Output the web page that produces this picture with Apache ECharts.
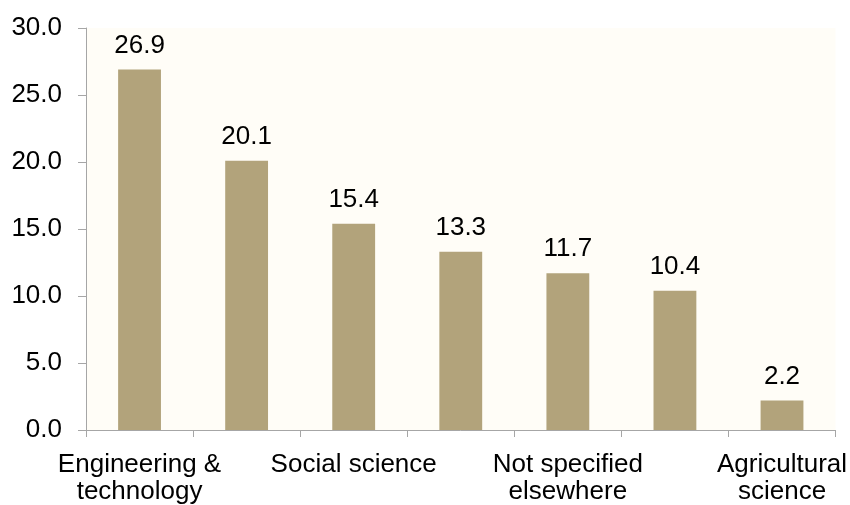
<!DOCTYPE html>
<html>
<head>
<meta charset="utf-8">
<script src="https://cdn.jsdelivr.net/npm/echarts@6/dist/echarts.min.js"></script>
<style>
  html, body { margin: 0; padding: 0; background: #ffffff; }
  #chart { width: 850px; height: 505px; }
</style>
</head>
<body>
<div id="chart"></div>
<script>
// Fields of study, shares in percent
const categories = [
  'Engineering &\ntechnology',
  'Natural science',
  'Social science',
  'Medical science',
  'Not specified\nelsewhere',
  'Humanities',
  'Agricultural\nscience'
];
const shares = [26.9, 20.1, 15.4, 13.3, 11.7, 10.4, 2.2];
const yTicks = { min: 0, max: 30, step: 5 };

const chart = echarts.init(document.getElementById('chart'), null, { renderer: 'canvas' });
const font = 'Liberation Sans, Arial, sans-serif';

chart.setOption({
  animation: false,
  backgroundColor: '#ffffff',
  grid: {
    left: 86, right: 14, top: 28, bottom: 75,
    show: true, backgroundColor: '#fffdf7', borderWidth: 0
  },
  xAxis: {
    type: 'category',
    data: categories,
    axisLine: { lineStyle: { color: '#a6a6a6', width: 1 } },
    axisTick: { show: true, interval: 0, length: 7, lineStyle: { color: '#a6a6a6' } },
    axisLabel: {
      interval: 1,
      color: '#000000',
      fontFamily: font,
      fontSize: 26,
      lineHeight: 27,
      margin: 21
    }
  },
  yAxis: {
    type: 'value',
    min: yTicks.min,
    max: yTicks.max,
    interval: yTicks.step,
    splitLine: { show: false },
    axisLine: { show: true, lineStyle: { color: '#a6a6a6', width: 1 } },
    axisTick: { show: true, length: 8, lineStyle: { color: '#a6a6a6' } },
    axisLabel: {
      color: '#000000',
      fontFamily: font,
      fontSize: 26,
      margin: 24,
      formatter: v => v.toFixed(1)
    }
  },
  series: [{
    type: 'bar',
    data: shares,
    barWidth: '40%',
    itemStyle: { color: '#b2a37b' },
    label: {
      show: true,
      position: 'top',
      distance: 11,
      color: '#000000',
      fontFamily: font,
      fontSize: 26,
      formatter: p => p.value.toFixed(1)
    }
  }]
});
</script>
</body>
</html>
